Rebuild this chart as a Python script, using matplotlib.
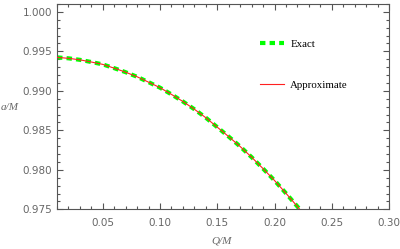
# _*_ coding: utf-8 _*_
"""
Exact vs approximate a/M as a function of Q/M.
"""

import matplotlib
matplotlib.use("Agg")
import matplotlib.pyplot as plt
from matplotlib.ticker import MultipleLocator, FormatStrFormatter

# values
q_m = [0.01, 0.02, 0.03, 0.04, 0.05, 0.06, 0.07, 0.08, 0.09, 0.10, 0.11,
       0.12, 0.13, 0.14, 0.15, 0.16, 0.17, 0.18, 0.19, 0.20, 0.21, 0.22,
       0.222]
a_exact = [0.99424, 0.99412, 0.99393, 0.99365, 0.99335, 0.99287, 0.99236,
           0.99178, 0.99110, 0.99040, 0.98955, 0.98865, 0.98767, 0.98660,
           0.98540, 0.98420, 0.98295, 0.98160, 0.98015, 0.97865, 0.97703,
           0.97535, 0.97500]
a_approx = [0.99424, 0.99412, 0.99393, 0.99365, 0.99335, 0.99287, 0.99236,
            0.99178, 0.99110, 0.99040, 0.98955, 0.98865, 0.98767, 0.98660,
            0.98540, 0.98420, 0.98295, 0.98160, 0.98015, 0.97865, 0.97703,
            0.97535, 0.97500]

frame_col = '#555555'
label_col = '#666666'

fig = plt.figure(figsize=(4.0, 2.49), dpi=100)
ax = fig.add_axes([0.1425, 0.1594, 0.83, 0.8246])

# curves
ax.plot(q_m, a_exact, color='#00ff00', lw=3.0, ls=(0, (1.3, 1.0)),
        label='Exact', zorder=2)
ax.plot(q_m, a_approx, color='#ff2020', lw=0.8, label='Approximate',
        zorder=3)

# axes range and ticks
ax.set_xlim(0.01, 0.30)
ax.set_ylim(0.975, 1.001)
ax.xaxis.set_major_locator(MultipleLocator(0.05))
ax.xaxis.set_minor_locator(MultipleLocator(0.01))
ax.yaxis.set_major_locator(MultipleLocator(0.005))
ax.yaxis.set_minor_locator(MultipleLocator(0.001))
ax.xaxis.set_major_formatter(FormatStrFormatter('%.2f'))
ax.yaxis.set_major_formatter(FormatStrFormatter('%.3f'))

ax.tick_params(which='both', direction='in', top=True, right=True,
               color=frame_col, width=0.8, labelcolor=label_col,
               labelsize=7.5)
ax.tick_params(which='major', length=4)
ax.tick_params(which='minor', length=2)
ax.tick_params(axis='x', pad=6)
for sp in ax.spines.values():
    sp.set_color(frame_col)
    sp.set_linewidth(0.8)

# axis labels
serif_it = {'family': 'Liberation Serif', 'style': 'italic', 'size': 8}
fig.text(10 / 400, 1 - 107 / 249, 'a/M', color=label_col,
         ha='center', va='center', fontdict=serif_it)
fig.text(222 / 400, 1 - 241 / 249, 'Q/M', color=label_col,
         ha='center', va='center', fontdict=serif_it)

# legend
leg = ax.legend(loc='upper left', bbox_to_anchor=(260 / 400, 1 - 39 / 249),
                bbox_transform=fig.transFigure, frameon=False,
                borderpad=0, borderaxespad=0, handlelength=2.2,
                handletextpad=0.6, labelspacing=2.95,
                prop={'family': 'Liberation Serif', 'size': 7.8})

fig.savefig('out.png', dpi=100)
